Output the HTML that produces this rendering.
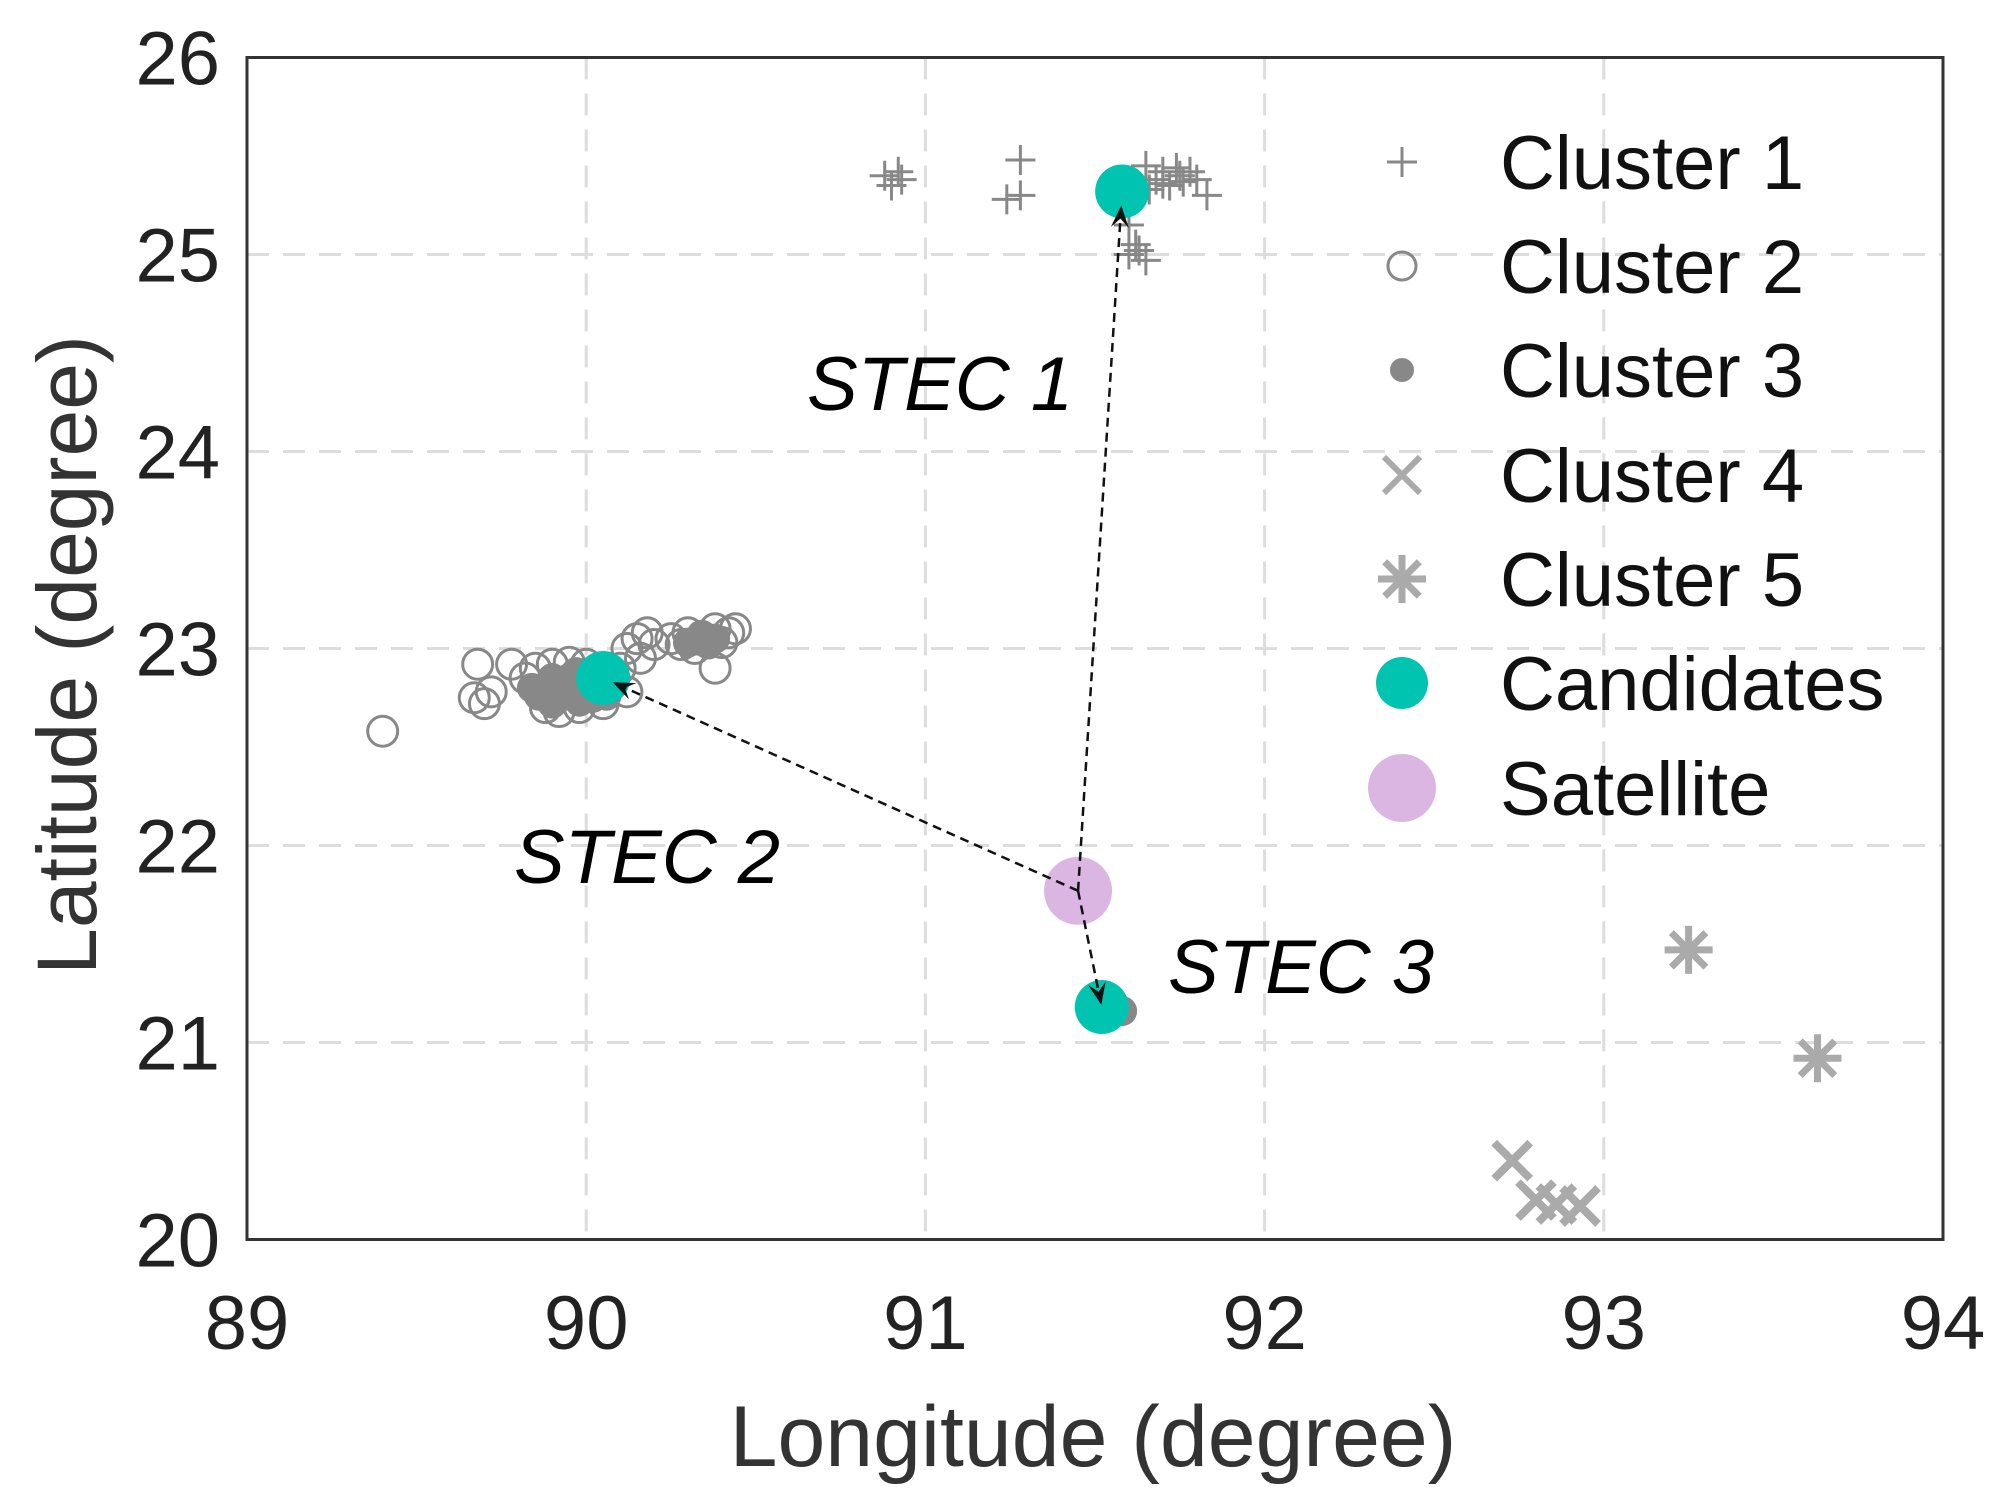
<!DOCTYPE html>
<html><head><meta charset="utf-8"><style>
html,body{margin:0;padding:0;background:#fff;}
svg{display:block;font-family:"Liberation Sans",Arial,sans-serif;}
</style></head><body>
<svg id="chart" width="1994" height="1504" viewBox="0 0 1994 1504" xmlns="http://www.w3.org/2000/svg">
<g id="grid"></g>
<g id="marks"></g>
<rect x="247" y="57.5" width="1696" height="1182" fill="none" stroke="#333" stroke-width="3"/>
<g id="ticks" font-size="76" fill="#222"></g>
<text x="1093" y="1466" font-size="86" text-anchor="middle" fill="#333">Longitude (degree)</text>
<text transform="translate(96,655) rotate(-90)" font-size="84" text-anchor="middle" fill="#333">Latitude (degree)</text>
<text x="807" y="410" font-size="76" font-style="italic" fill="#000">STEC 1</text>
<text x="514" y="883" font-size="76" font-style="italic" fill="#000">STEC 2</text>
<text x="1168" y="993" font-size="76" font-style="italic" fill="#000">STEC 3</text>
<g id="legend" font-size="76" fill="#111"></g>
</svg>
<script>
const xTicks=[89,90,91,92,93,94];
const yTicks=[20,21,22,23,24,25,26];
const cluster1=[[90.88,25.4],[90.92,25.42],[90.9,25.35],[90.93,25.38],[91.28,25.48],[91.24,25.28],[91.28,25.3],[91.65,25.45],[91.68,25.38],[91.7,25.42],[91.72,25.35],[91.75,25.4],[91.78,25.42],[91.8,25.38],[91.66,25.33],[91.7,25.36],[91.74,25.44],[91.76,25.37],[91.83,25.3],[91.62,25.05],[91.6,25.0],[91.65,24.97],[91.63,25.02],[91.6,25.15]];
const cluster2=[[89.4,22.58],[89.68,22.92],[89.67,22.75],[89.72,22.78],[89.7,22.72],[89.78,22.92],[89.85,22.9],[89.9,22.92],[89.95,22.93],[90.0,22.92],[89.88,22.7],[89.92,22.68],[89.98,22.7],[90.1,22.9],[90.12,22.78],[90.15,23.05],[90.18,23.08],[90.2,23.02],[90.25,23.05],[90.3,23.08],[90.32,23.0],[90.35,23.05],[90.38,23.1],[90.4,23.03],[90.42,23.08],[90.44,23.1],[90.38,22.9],[90.28,23.02],[89.82,22.85],[90.05,22.72],[90.12,23.0],[90.16,22.95]];
const cluster3=[[89.88,22.8],[89.92,22.75],[89.96,22.78],[90.0,22.8],[89.9,22.72],[89.95,22.85],[90.02,22.75],[89.86,22.76],[89.93,22.8],[89.98,22.73],[90.04,22.8],[89.9,22.85],[89.84,22.8],[90.06,22.76],[89.97,22.88],[90.3,23.03],[90.33,23.04],[90.36,23.02],[90.38,23.05],[90.34,23.07],[91.55,21.18],[91.58,21.16]];
const cluster4=[[92.73,20.4],[92.8,20.2],[92.86,20.18],[92.93,20.17]];
const cluster5=[[93.25,21.47],[93.63,20.92]];
const candidates=[[90.05,22.85],[91.58,25.32],[91.52,21.18]];
const satellite=[91.45,21.77];
const NS="http://www.w3.org/2000/svg";
const X=v=>247+(v-89)*339.2, Y=v=>1239.5-(v-20)*197;
function mk(tag,attrs,parent){const e=document.createElementNS(NS,tag);for(const k in attrs)e.setAttribute(k,attrs[k]);parent.appendChild(e);return e;}
const grid=document.getElementById('grid'),marks=document.getElementById('marks'),ticks=document.getElementById('ticks'),legend=document.getElementById('legend');
xTicks.forEach(t=>{const l=mk('line',{x1:X(t),x2:X(t),y1:57.5,y2:1239.5,stroke:'#ddd','stroke-width':3,'stroke-dasharray':'22 14'},grid);

const tx=mk('text',{x:X(t),y:1349,'text-anchor':'middle'},ticks);tx.textContent=t;
});
yTicks.forEach(t=>{const l=mk('line',{x1:247,x2:1943,y1:Y(t),y2:Y(t),stroke:'#ddd','stroke-width':3,'stroke-dasharray':'22 14'},grid);

const tx=mk('text',{x:220,y:Y(t)+27,'text-anchor':'end'},ticks);tx.textContent=t;
});
function plus(x,y,s,p,c,w){const g=mk('path',{d:`M${x-s} ${y}H${x+s}M${x} ${y-s}V${y+s}`,stroke:c,'stroke-width':w,fill:'none'},p);return g;}
function cross(x,y,s,p,c,w){return mk('path',{d:`M${x-s} ${y-s}L${x+s} ${y+s}M${x-s} ${y+s}L${x+s} ${y-s}`,stroke:c,'stroke-width':w,fill:'none'},p);}
function star(x,y,s,p,c,w){return mk('path',{d:`M${x-s} ${y}H${x+s}M${x} ${y-s}V${y+s}M${x-s*.72} ${y-s*.72}L${x+s*.72} ${y+s*.72}M${x-s*.72} ${y+s*.72}L${x+s*.72} ${y-s*.72}`,stroke:c,'stroke-width':w,fill:'none'},p);}
cluster2.forEach(d=>{const e=mk('circle',{cx:X(d[0]),cy:Y(d[1]),r:15,fill:'none',stroke:'#888','stroke-width':3},marks);
});
cluster3.forEach(d=>{const e=mk('circle',{cx:X(d[0]),cy:Y(d[1]),r:15,fill:'#888'},marks);
});
cluster1.forEach(d=>{const e=plus(X(d[0]),Y(d[1]),15,marks,'#888',3);
});
cluster4.forEach(d=>{const e=cross(X(d[0]),Y(d[1]),18,marks,'#aaa',8);
});
cluster5.forEach(d=>{const e=star(X(d[0]),Y(d[1]),24,marks,'#aaa',7);
});
const sat=mk('circle',{cx:X(satellite[0]),cy:Y(satellite[1]),r:34,fill:'#dbb6e2'},marks);

candidates.forEach(d=>{const e=mk('circle',{cx:X(d[0]),cy:Y(d[1]),r:27,fill:'#00c4b0'},marks);
});
candidates.forEach(d=>{const x0=X(satellite[0]),y0=Y(satellite[1]),x1=X(d[0])+(X(satellite[0])-X(d[0]))*0.02,y1=Y(d[1])+(Y(satellite[1])-Y(d[1]))*0.02;
const e=mk('line',{x1:x0,y1:y0,x2:x1,y2:y1,stroke:'#111','stroke-width':2.5,'stroke-dasharray':'9 6'},marks);

const a=Math.atan2(y1-y0,x1-x0),L=22,W=9;
const h=mk('path',{d:`M${x1} ${y1}L${x1-L*Math.cos(a)+W*Math.sin(a)} ${y1-L*Math.sin(a)-W*Math.cos(a)}L${x1-L*0.6*Math.cos(a)} ${y1-L*0.6*Math.sin(a)}L${x1-L*Math.cos(a)-W*Math.sin(a)} ${y1-L*Math.sin(a)+W*Math.cos(a)}Z`,fill:'#111'},marks);
});
const lx=1402,tx0=1500,ly=[162,266,370,475,579,683,788];
const names=['Cluster 1','Cluster 2','Cluster 3','Cluster 4','Cluster 5','Candidates','Satellite'];
let m;
m=plus(lx,ly[0],15,legend,'#888',3);
m=mk('circle',{cx:lx,cy:ly[1],r:14,fill:'none',stroke:'#888','stroke-width':3},legend);
m=mk('circle',{cx:lx,cy:ly[2],r:12,fill:'#888'},legend);
m=cross(lx,ly[3],18,legend,'#aaa',6);
m=star(lx,ly[4],24,legend,'#aaa',7);
m=mk('circle',{cx:lx,cy:ly[5],r:26,fill:'#00c4b0'},legend);
m=mk('circle',{cx:lx,cy:ly[6],r:34,fill:'#dbb6e2'},legend);
names.forEach((n,i)=>{const t=mk('text',{x:tx0,y:ly[i]+27},legend);t.textContent=n;
});
</script>
</body></html>
